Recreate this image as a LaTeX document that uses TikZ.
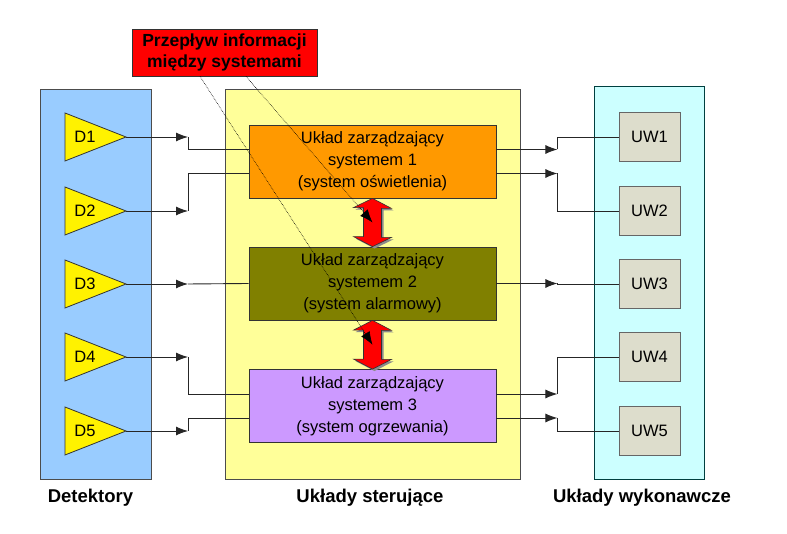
\documentclass[tikz,border=0pt]{standalone}
\usepackage{fontspec}
\setmainfont{Liberation Sans}
\usetikzlibrary{arrows.meta,calc,shadows}

\definecolor{detblue}{HTML}{99CCFF}
\definecolor{ctrlyellow}{HTML}{FFFF99}
\definecolor{execcyan}{HTML}{CCFFFF}
\definecolor{sysorange}{HTML}{FF9900}
\definecolor{sysolive}{HTML}{808000}
\definecolor{syslilac}{HTML}{CC99FF}
\definecolor{uwgray}{HTML}{DDDDCC}

\tikzset{
    panel/.style={draw=black!70, line width=0.8pt, inner sep=0pt},
    sysbox/.style={draw=black!80, line width=0.8pt, minimum width=247pt, minimum height=73pt,
        inner sep=0pt, align=center, font=\fontsize{16.5}{22}\selectfont},
    uwbox/.style={draw=black!60, fill=uwgray, line width=0.8pt, minimum width=61pt,
        minimum height=49pt, inner sep=0pt, font=\fontsize{16.5}{20}\selectfont},
    dettri/.style={draw=black!80, fill=yellow, line width=0.8pt},
    dlabel/.style={inner sep=0pt, font=\fontsize{16.5}{20}\selectfont},
    caption/.style={inner sep=0pt, anchor=base, font=\fontsize{18.5}{22}\selectfont\bfseries},
    conn/.style={draw=black!85, line width=0.9pt},
    arr/.style={-{Latex[length=12pt,width=9pt]}},
    infobox/.style={draw=black!80, fill=red, line width=0.8pt, minimum width=185pt,
        minimum height=47pt, inner sep=0pt, align=center, font=\fontsize{17.5}{21}\selectfont\bfseries},
    infoarrow/.style={draw=black!80, fill=red, line width=0.6pt,
        drop shadow={shadow xshift=2pt, shadow yshift=-2pt, fill=black!45, opacity=1}},
    infoline/.style={black, densely dotted, line width=0.6pt, -{Latex[length=13pt,width=10pt]}}
}

\begin{document}
\begin{tikzpicture}[x=1pt,y=1pt]

    \useasboundingbox (0,0) rectangle (787,534);

    % panels
    \node[panel, fill=detblue, minimum width=111pt, minimum height=390pt] (det) at (95.5,250) {};
    \node[panel, fill=ctrlyellow, minimum width=295pt, minimum height=390pt] (ctrl) at (372.5,250) {};
    \node[panel, draw=black!50!teal, fill=execcyan, minimum width=110pt, minimum height=393pt] (exec) at (649,251.5) {};

    % control systems
    \node[sysbox, fill=sysorange] (b1) at (372.5,372.5) {Układ zarządzający\\systemem 1\\(system oświetlenia)};
    \node[sysbox, fill=sysolive] (b2) at (372.5,250.5) {Układ zarządzający\\systemem 2\\(system alarmowy)};
    \node[sysbox, fill=syslilac] (b3) at (372.5,128) {Układ zarządzający\\systemem 3\\(system ogrzewania)};

    % detectors
    \foreach \i/\y in {1/397,2/323,3/250,4/177,5/103} {
        \coordinate (d\i o) at (126,\y);
        \draw[conn, arr] (d\i o) -- ++(62,0) coordinate (jl\i);
        \draw[dettri] (65,\y+24) -- (d\i o) -- (65,\y-24) -- cycle;
        \node[dlabel] (d\i) at (85,\y) {D\i};
    }
    \draw[conn] (jl1) |- ([yshift=12pt]b1.west);
    \draw[conn] (jl2) |- ([yshift=-12pt]b1.west);
    \draw[conn] (jl3) -- (b2.west);
    \draw[conn] (jl4) |- ([yshift=12pt]b3.west);
    \draw[conn] (jl5) |- ([yshift=-12pt]b3.west);

    % executive units
    \foreach \i/\y in {1/397,2/323,3/250,4/177,5/103}
        \node[uwbox] (uw\i) at (649.5,\y) {UW\i};

    \draw[conn, arr] ([yshift=12pt]b1.east) -- ++(61,0) coordinate (jr1);
    \draw[conn, arr] ([yshift=-12pt]b1.east) -- ++(61,0) coordinate (jr2);
    \draw[conn, arr] (b2.east) -- ++(61,0) coordinate (jr3);
    \draw[conn, arr] ([yshift=12pt]b3.east) -- ++(61,0) coordinate (jr4);
    \draw[conn, arr] ([yshift=-12pt]b3.east) -- ++(61,0) coordinate (jr5);
    \foreach \i in {1,...,5}
        \draw[conn] (jr\i) |- (uw\i.west);

    % information flow
    \foreach \up/\lo in {b1/b2,b2/b3}
        \filldraw[infoarrow] (\up.south) -- ++(19,-10) -- ++(-10,0) -- ++(0,-29) -- ++(10,0)
            -- (\lo.north) -- ++(-19,10) -- ++(10,0) -- ++(0,29) -- ++(-10,0) -- cycle;

    \node[infobox] (info) at (224.5,481.5) {Przepływ informacji\\między systemami};
    \draw[infoline] ([xshift=-24.5pt]info.south) -- ($(b2.south)!0.5!(b3.north)$);
    \draw[infoline] ([xshift=21.5pt]info.south) -- ($(b1.south)!0.5!(b2.north)$);

    % captions
    \node[caption] (ldet) at (90.5,31) {Detektory};
    \node[caption] (lctrl) at (370,31) {Układy sterujące};
    \node[caption] (lexec) at (642,31) {Układy wykonawcze};

\end{tikzpicture}
\end{document}
